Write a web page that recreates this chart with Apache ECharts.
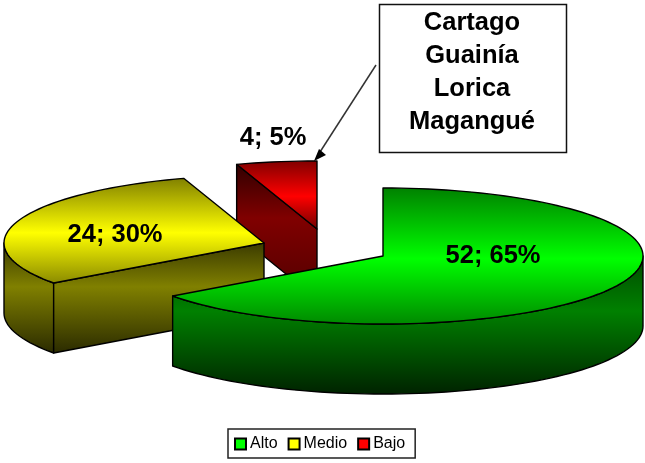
<!DOCTYPE html>
<html><head><meta charset="utf-8">
<style>html,body{margin:0;padding:0;background:#fff}#c{width:645px;height:463px}</style>
<script src="https://cdn.jsdelivr.net/npm/echarts@6/dist/echarts.min.js"></script>
</head><body><div id="c"></div>
<script>
// Data
const categories = ['Alto', 'Medio', 'Bajo'];
const values = [52, 24, 4];
const calloutLines = ['Cartago', 'Guainía', 'Lorica', 'Magangué'];

// Layout and style (not data)
const radiusX = 260, radiusY = 68, depth = 70;
const apexes = [[383, 256], [264, 243], [317, 229]];
const labelOffsets = [[110, 0], [-149, -8.5], [-44, -91.5]];
const palette = [
  {bright: '#00ff00', mid: '#008000', edge: '#008800', dark: '#002200', wallTop: '#004a00'},
  {bright: '#ffff00', mid: '#808000', edge: '#8a8a00', dark: '#2a2a00', wallTop: '#3a3a00'},
  {bright: '#ff0000', mid: '#800000', edge: '#700000', dark: '#500000', wallTop: '#300000'}
];
const FONT = '"Liberation Sans", Arial, sans-serif';

const total = values.reduce((a, b) => a + b, 0);
const rad = d => d * Math.PI / 180;

function makeRender(idx) {
  const start = values.slice(0, idx).reduce((a, b) => a + b, 0) / total * 360;
  return function (params, api) {
    const v = api.value(0);
    const end = start + v / total * 360;
    const [cx, cy] = apexes[idx];
    const pal = palette[idx];
    const pt = (deg, dy) => [cx + radiusX * Math.sin(rad(deg)), cy - radiusY * Math.cos(rad(deg)) + (dy || 0)];
    const arc = (a, b, dy) => {
      const out = [], n = Math.max(2, Math.ceil((b - a) / 2));
      for (let i = 0; i <= n; i++) out.push(pt(a + (b - a) * i / n, dy));
      return out;
    };
    const wallFill = new echarts.graphic.LinearGradient(0, 0, 0, 1, [
      {offset: 0, color: pal.wallTop}, {offset: 0.4, color: pal.mid}, {offset: 1, color: pal.dark}
    ]);
    const stroke = {stroke: '#000', lineWidth: 1.4, lineJoin: 'round'};
    const children = [];
    const poly = (points, fill) => children.push({
      type: 'polygon', shape: {points}, style: Object.assign({fill}, stroke)
    });
    // outer wall, the part of the rim facing the viewer (90..270 deg)
    const wa = Math.max(start, 90), wb = Math.min(end, 270);
    if (wb > wa) poly(arc(wa, wb, 0).concat(arc(wa, wb, depth).reverse()), wallFill);
    // radial cut face at the start angle, when it faces the viewer
    if (Math.cos(rad(start - 90)) < -1e-6) {
      const p = pt(start);
      poly([p, [cx, cy], [cx, cy + depth], [p[0], p[1] + depth]], wallFill);
    }
    // top face
    poly([[cx, cy]].concat(arc(start, end, 0)), new echarts.graphic.LinearGradient(0, 0, 0, 1, [
      {offset: 0, color: pal.mid}, {offset: 0.52, color: pal.bright}, {offset: 1, color: pal.edge}
    ]));
    // data label
    children.push({
      type: 'text',
      x: cx + labelOffsets[idx][0], y: cy + labelOffsets[idx][1],
      style: {
        text: v + '; ' + Math.round(v / total * 100) + '%',
        fill: '#000', font: 'bold 25.5px ' + FONT, align: 'center', verticalAlign: 'middle'
      }
    });
    return {type: 'group', children};
  };
}

// Paint back to front: Bajo, Medio, Alto. Legend keeps category order.
const series = categories.map((name, i) => ({
  type: 'custom', name, coordinateSystem: 'none',
  z: 10 - i,
  itemStyle: {color: palette[i].bright, borderColor: '#000', borderWidth: 1},
  renderItem: makeRender(i),
  data: [[values[i]]],
  animation: false, silent: true
}));

const calloutTexts = calloutLines.map((t, i) => ({
  type: 'text', x: 472, y: 22.5 + i * 33,
  style: {text: t, fill: '#000', font: 'bold 25.5px ' + FONT, align: 'center', verticalAlign: 'middle'}
}));

const chart = echarts.init(document.getElementById('c'), null, {renderer: 'canvas'});
chart.setOption({
  animation: false,
  backgroundColor: '#fff',
  legend: {
    data: categories, orient: 'horizontal', left: 228, top: 429,
    padding: [7, 10, 6, 6], itemGap: 10, itemWidth: 11, itemHeight: 11,
    icon: 'rect', borderColor: '#222', borderWidth: 1.5, backgroundColor: '#fff',
    textStyle: {fontFamily: FONT, fontSize: 16, color: '#000', padding: [0, 0, 0, -1]},
    selectedMode: false
  },
  series,
  graphic: {elements: [
    {type: 'rect', z: 50, shape: {x: 379.5, y: 4.5, width: 187, height: 148},
     style: {fill: '#fff', stroke: '#111', lineWidth: 1.5}},
    {type: 'line', z: 50, shape: {x1: 376, y1: 65, x2: 320, y2: 152},
     style: {stroke: '#333', lineWidth: 1.5}},
    {type: 'polygon', z: 50, shape: {points: [[314, 161], [319, 149], [326, 155]]},
     style: {fill: '#000'}}
  ].concat(calloutTexts.map(t => Object.assign({z: 51}, t)))}
});
</script></body></html>
